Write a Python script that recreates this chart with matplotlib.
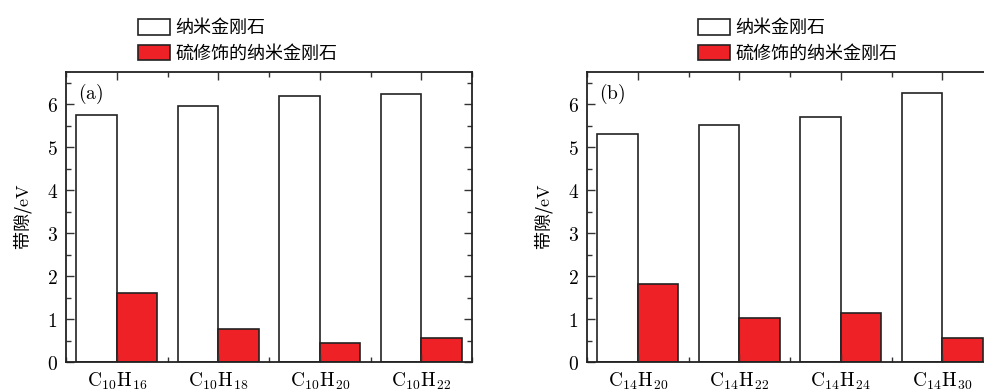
import numpy as np
import matplotlib.pyplot as plt
from matplotlib.patches import Patch
from matplotlib.ticker import MultipleLocator

plt.rcParams['font.family'] = ['Noto Sans CJK SC', 'DejaVu Sans']
plt.rcParams['mathtext.fontset'] = 'cm'

# donnees
labels_a = [r'$\mathrm{C_{10}H_{16}}$', r'$\mathrm{C_{10}H_{18}}$',
            r'$\mathrm{C_{10}H_{20}}$', r'$\mathrm{C_{10}H_{22}}$']
nano_a = [5.74, 5.97, 6.18, 6.23]
sulf_a = [1.60, 0.76, 0.44, 0.56]

labels_b = [r'$\mathrm{C_{14}H_{20}}$', r'$\mathrm{C_{14}H_{22}}$',
            r'$\mathrm{C_{14}H_{24}}$', r'$\mathrm{C_{14}H_{30}}$']
nano_b = [5.30, 5.52, 5.71, 6.27]
sulf_b = [1.81, 1.03, 1.15, 0.57]

yticks = [0, 1, 2, 3, 4, 5, 6]
ytick_labels = ['$0$', '$1$', '$2$', '$3$', '$4$', '$5$', '$6$']

leg_names = ['纳米金刚石', '硫修饰的纳米金刚石']
red = '#ee2226'
edge = '#222222'

fig = plt.figure(figsize=(9.84, 3.9), dpi=100)
ax1 = fig.add_axes([66/984, 28/390, 406/984, 290/390])
ax2 = fig.add_axes([587/984, 28/390, 406/984, 290/390])


def panel(ax, labels, nano, sulf, tag):
    x = np.arange(1, len(labels) + 1)
    w = 0.4
    ax.bar(x - w/2, nano, w, color='white', edgecolor=edge, linewidth=1.2)
    ax.bar(x + w/2, sulf, w, color=red, edgecolor=edge, linewidth=1.2)
    ax.set_xlim(0.5, 4.5)
    ax.set_ylim(0, 6.75)
    ax.set_xticks(x)
    ax.set_xticklabels(labels, fontsize=14)
    ax.xaxis.set_minor_locator(MultipleLocator(0.5))
    ax.set_yticks(yticks)
    ax.set_yticklabels(ytick_labels, fontsize=14)
    ax.yaxis.set_minor_locator(MultipleLocator(0.5))
    ax.tick_params(which='both', direction='in', top=True, right=True,
                   color='#333333', width=1)
    ax.tick_params(which='major', length=6, pad=6)
    ax.tick_params(which='minor', length=3.5)
    for s in ax.spines.values():
        s.set_linewidth(1.3)
        s.set_color('#222222')
    ax.set_ylabel('带隙/$\\mathrm{eV}$', fontsize=13, labelpad=9)
    ax.text(0.03, 0.965, r'$(\mathrm{' + tag + '})$', transform=ax.transAxes,
            fontsize=14, va='top', ha='left')


panel(ax1, labels_a, nano_a, sulf_a, 'a')
panel(ax2, labels_b, nano_b, sulf_b, 'b')

handles = [Patch(facecolor='white', edgecolor=edge, linewidth=1.2),
           Patch(facecolor=red, edgecolor=edge, linewidth=1.2)]
for xl in [138/984, 698/984]:
    fig.legend(handles, leg_names, loc='upper left',
               bbox_to_anchor=(xl, 1 - 19/390),
               frameon=False, fontsize=13, handlelength=1.75, handleheight=0.95,
               handletextpad=0.3, labelspacing=0.42, borderaxespad=0,
               borderpad=0)

plt.savefig('out.png')
